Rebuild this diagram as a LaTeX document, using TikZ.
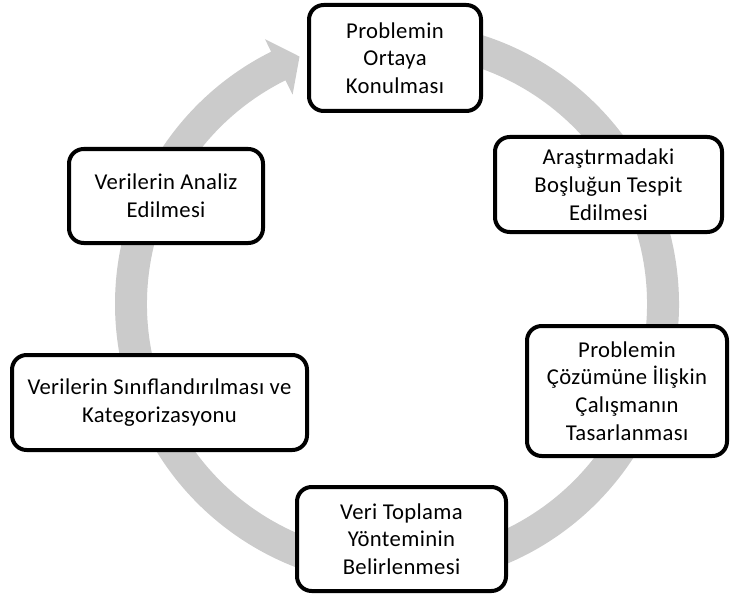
\documentclass[tikz,border=0pt]{standalone}
\usepackage{fontspec}
\setmainfont{Carlito}[LetterSpace=1.5]
\usepackage{tikz}
\usetikzlibrary{calc}
\definecolor{ink}{HTML}{000000}
\definecolor{paper}{HTML}{FFFFFF}
\definecolor{ringgray}{HTML}{CBCBCB}
\tikzset{
  stepbox/.style={draw=ink,fill=paper,line width=3pt,rounded corners=11pt,align=center,inner sep=2pt,
    font=\fontsize{17}{20.8}\selectfont},
}
\begin{document}
\begin{tikzpicture}[x=0.75pt,y=0.75pt]
  \useasboundingbox (0,0) rectangle (731,601);
  \coordinate (C) at (397,297);

  % grey cycle arrow, clockwise, head at the top left
  \fill[ringgray] ($(C)+(95:282)$) arc[start angle=95,end angle=-243.5,radius=282]
    -- ($(C)+(-243.5:296)$) -- ($(C)+(-248.5:266)$) -- ($(C)+(-243.5:234)$)
    -- ($(C)+(-243.5:250)$) arc[start angle=-243.5,end angle=95,radius=250] -- cycle;

  \node[stepbox,minimum width=129pt,minimum height=79.5pt] (problem) at (395,543) {Problemin\\Ortaya\\Konulması};
  \node[stepbox,minimum width=170.25pt,minimum height=71.25pt] (gap) at (608.5,416.5) {Araştırmadaki\\Boşluğun Tespit\\Edilmesi};
  \node[stepbox,minimum width=150pt,minimum height=97.5pt] (design) at (627,210) {Problemin\\Çözümüne İlişkin\\Çalışmanın\\Tasarlanması};
  \node[stepbox,minimum width=156.75pt,minimum height=78pt] (collect) at (401.5,62) {Veri Toplama\\Yönteminin\\Belirlenmesi};
  \node[stepbox,minimum width=221.25pt,minimum height=71.25pt] (classify) at (159.5,198.5) {Verilerin Sınıflandırılması ve\\Kategorizasyonu};
  \node[stepbox,minimum width=145.5pt,minimum height=70.5pt] (analyse) at (166,405) {Verilerin Analiz\\Edilmesi};
\end{tikzpicture}
\end{document}
